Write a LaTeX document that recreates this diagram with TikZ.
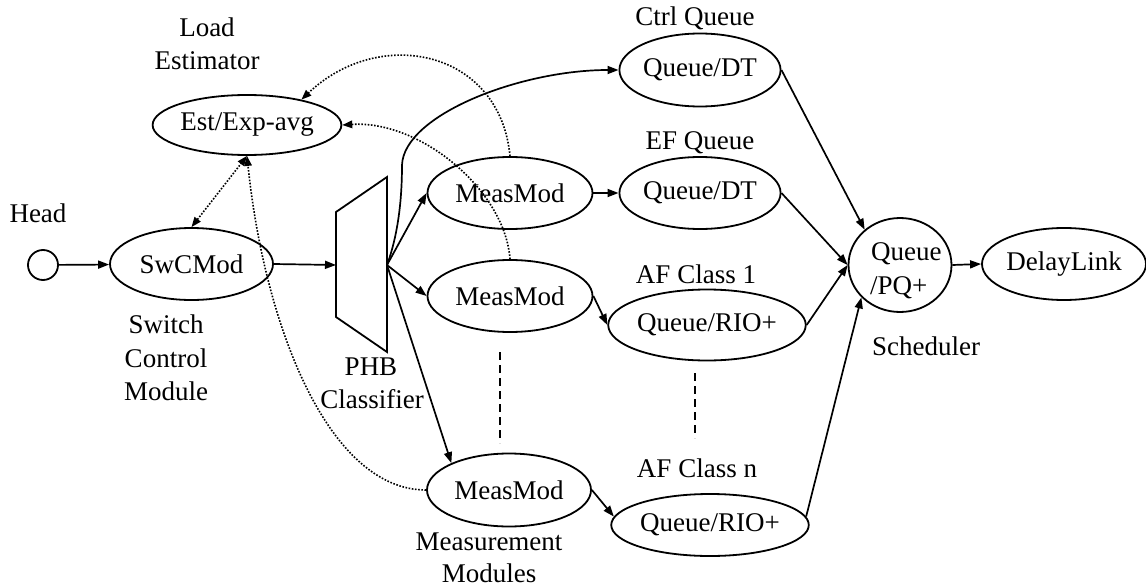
\documentclass[tikz,border=0pt]{standalone}
\usepackage{fontspec}
\setmainfont{Liberation Serif}
\usetikzlibrary{shapes.geometric,arrows.meta}
\begin{document}
\begin{tikzpicture}[x=1pt,y=-1pt,
  font=\fontsize{27}{33}\selectfont,
  ell/.style={draw, ellipse, line width=1.8pt, inner sep=0pt},
  lbl/.style={anchor=base, inner sep=0pt},
  conn/.style={line width=1.7pt, -{Triangle[length=11pt,width=8pt]}},
  dotconn/.style={line width=1.6pt, dash pattern=on 1.6pt off 1.6pt, {Triangle[length=10pt,width=7.5pt]}-{Triangle[length=10pt,width=7.5pt]}},
  dotarr/.style={line width=1.6pt, dash pattern=on 1.6pt off 1.6pt, -{Triangle[length=10pt,width=7.5pt]}},
  vdash/.style={line width=2.4pt, dash pattern=on 8pt off 5pt}]
\useasboundingbox (0,0) rectangle (1146,586);

% nodes
\node[draw, circle, line width=1.8pt, minimum size=30pt, inner sep=0pt] (head) at (43,265) {};
\node[ell, minimum width=163pt, minimum height=72pt] (sw) at (191.5,264) {SwCMod};
\node[ell, minimum width=174pt, minimum height=60pt] (est) at (247,125) {Est/Exp-avg};
\node[ell, minimum width=165pt, minimum height=72pt] (m1) at (510,193) {MeasMod};
\node[ell, minimum width=165pt, minimum height=72pt] (m2) at (510,296) {MeasMod};
\node[ell, minimum width=164pt, minimum height=73pt] (m3) at (509,490) {MeasMod};
\node[ell, minimum width=154pt, minimum height=73pt] (ctrl) at (700,70) {Queue/DT};
\node[ell, minimum width=154pt, minimum height=72pt] (ef) at (700,193) {Queue/DT};
\node[ell, minimum width=168pt, minimum height=71pt] (af1) at (707,325) {Queue/RIO+};
\node[ell, minimum width=175pt, minimum height=62pt] (afn) at (710,525) {Queue/RIO+};
\node[ell, minimum width=103pt, minimum height=94pt] (sch) at (900,265) {};
\node[anchor=base west, inner sep=0pt] (schq) at (871,260) {Queue};
\node[anchor=base west, inner sep=0pt] (schp) at (870,294) {/PQ+};
\node[ell, minimum width=164pt, minimum height=72pt] (dl) at (1064,264) {DelayLink};

% PHB classifier
\draw[line width=1.8pt, line join=miter] (336,212) -- (387,177) -- (387,352) -- (336,317) -- cycle;
\coordinate (phbin) at (336,265);
\coordinate (phbout) at (387,265);

% labels
\node[lbl] (lhead) at (38,222) {Head};
\node[lbl] (lload) at (207,37) {Load};
\node[lbl] (lest) at (207,70) {Estimator};
\node[lbl] (lsw1) at (166,333) {Switch};
\node[lbl] (lsw2) at (166,367) {Control};
\node[lbl] (lsw3) at (166,400) {Module};
\node[lbl] (lphb1) at (371,375) {PHB};
\node[lbl] (lphb2) at (372,408) {Classifier};
\node[lbl] (lmm1) at (489,550) {Measurement};
\node[lbl] (lmm2) at (489,582) {Modules};
\node[lbl] (lctrl) at (695,26) {Ctrl Queue};
\node[lbl] (lef) at (700,149) {EF Queue};
\node[lbl] (laf1) at (696,283) {AF Class 1};
\node[lbl] (lafn) at (697,477) {AF Class n};
\node[lbl] (lsch) at (926,355) {Scheduler};

% dashed separators
\coordinate (d1a) at (500,352);
\coordinate (d1b) at (500,443);
\coordinate (d2a) at (695,373);
\coordinate (d2b) at (695,438);
\draw[vdash] (d1a) -- (d1b);
\draw[vdash] (d2a) -- (d2b);

% solid connectors
\draw[conn] (head) -- (sw);
\draw[conn] (sw.east) -- (phbin);
\draw[conn] (phbout) -- (m1.west);
\draw[conn] (phbout) -- (m2.west);
\draw[conn] (phbout) -- (m3.155);
\draw[conn] (phbout) .. controls (398,235) and (402,200) .. (402,165)
  .. controls (404,115) and (520,70) .. (ctrl.west);
\draw[conn] (m1.east) -- (ef.west);
\draw[conn] (m2.east) -- (af1.west);
\draw[conn] (m3.east) -- (afn.175);
\draw[conn] (ctrl.east) -- (sch.135);
\draw[conn] (ef.east) -- (sch.west);
\draw[conn] (af1.east) -- (sch.west);
\draw[conn] (afn.5) -- (sch.220);
\draw[conn] (sch.east) -- (dl.west);

% dotted connectors
\draw[dotconn] (sw.north) -- (est.south);
\draw[dotarr] (m1.north) .. controls (500,50) and (380,25) .. (est.25);
\draw[dotarr] (m2.north) .. controls (505,190) and (420,120) .. (est.east);
\draw[dotarr] (m3.west) .. controls (330,490) and (265,330) .. (est.south);
\end{tikzpicture}
\end{document}
